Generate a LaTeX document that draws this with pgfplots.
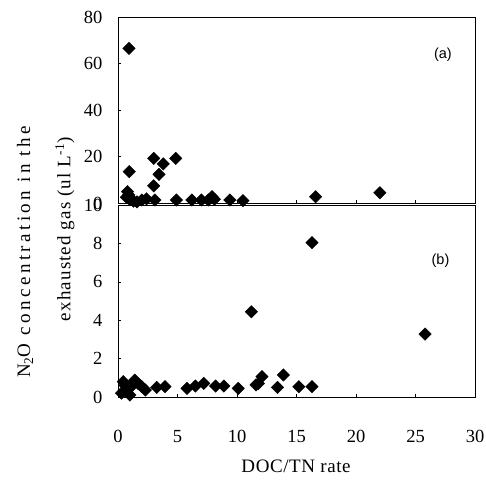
\documentclass[border=0pt]{standalone}
\usepackage{fontspec}
\setmainfont{Liberation Serif}
\newfontfamily\arialfont{Liberation Sans}
\usepackage{pgfplots}
\pgfplotsset{compat=1.18}
\begin{document}
\fontsize{19}{22}\selectfont
\begin{tikzpicture}
\useasboundingbox (-118pt,-83pt) rectangle (368pt,397pt);
\pgfplotsset{
  myaxis/.style={
    scale only axis, width=357pt, xmin=0, xmax=30,
    axis line style={line width=1pt},
    tick style={black, line width=0.6pt},
    major tick length=3pt,
    tick align=inside,
    xtick pos=bottom, ytick pos=left,
    /pgf/number format/assume math mode=true,
    tick label style={font=\fontsize{18.5}{21}\selectfont},
    yticklabel style={xshift=-9pt},
    clip=false,
  },
  pts/.style={only marks, mark=square*, mark size=4.4pt, mark options={rotate=45, fill=black, draw=black}}
}
\begin{axis}[myaxis, at={(0pt,0pt)}, anchor=south west, height=192pt,
  ymin=0, ymax=10, ytick={0,2,...,10}, xtick={0,5,...,30},
  xticklabel style={yshift=-27pt}]
\addplot[pts] coordinates {
(11.2,4.44) (25.8,3.28) (16.3,8.04) (12.1,1.06) (13.9,1.15) (11.6,0.63) (11.8,0.7)
(13.4,0.5) (15.2,0.54) (16.3,0.54) (10.1,0.45) (8.9,0.57) (8.2,0.57) (7.2,0.71)
(6.5,0.57) (5.8,0.45) (3.95,0.54) (3.25,0.5) (1.4,0.88) (0.45,0.8) (0.73,0.36)
(1.0,0.1) (2.0,0.54) (2.3,0.36) (0.3,0.2) (0.6,0.6) (1.2,0.6) (1.7,0.7)
};
\node[font=\arialfont\fontsize{14.5}{16}\selectfont] at (axis cs:27.1,7.1) {(b)};
\end{axis}
\begin{axis}[myaxis, at={(0pt,194pt)}, anchor=south west, height=186pt,
  ymin=0, ymax=80, ytick={0,20,...,80}, xtick={0,5,...,30}, xticklabels={}]
\addplot[pts] coordinates {
(0.92,66.5) (0.95,13.5) (0.8,4.9) (0.9,3.5) (0.7,2.5) (1.0,1.5) (1.3,0.8) (1.6,0.5)
(2.0,1.3) (2.4,1.8) (3.0,7.4) (3.0,19.2) (3.45,12.3) (3.8,16.8) (4.85,19.2) (3.1,1.3)
(4.9,1.3) (6.2,1.3) (7.0,1.3) (7.6,1.3) (7.9,2.7) (8.1,1.6) (9.4,1.3) (10.5,1.0)
(16.6,2.7) (22.0,4.4)
};
\node[font=\arialfont\fontsize{14.5}{16}\selectfont] at (axis cs:27.3,63.8) {(a)};
\end{axis}
\node[rotate=90, font=\addfontfeature{LetterSpace=18}] at (-93pt,145pt) {N\textsubscript{2}O concentration in the};
\node[rotate=90, font=\addfontfeature{LetterSpace=6}] at (-53pt,168pt) {exhausted gas (ul L\textsuperscript{-1})};
\node[font=\addfontfeature{LetterSpace=3}] at (178pt,-69pt) {DOC/TN rate};
\end{tikzpicture}
\end{document}
